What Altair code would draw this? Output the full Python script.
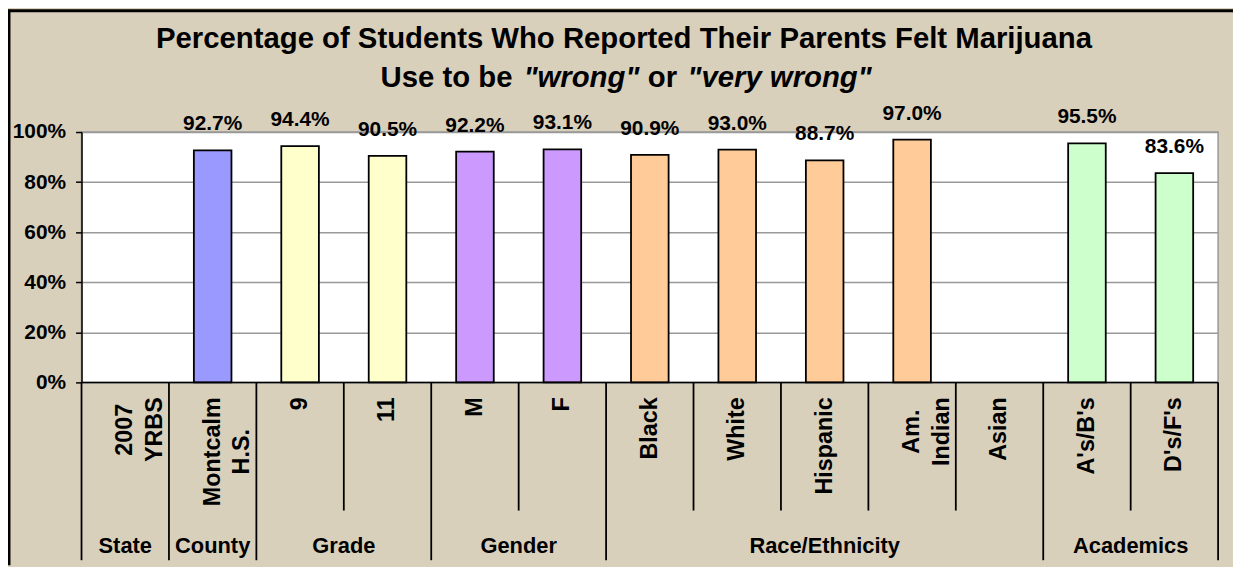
import altair as alt
import pandas as pd

# ---------------- data ----------------
cat_lines = [["2007", "YRBS"], ["Montcalm", "H.S."], ["9"], ["11"], ["M"], ["F"],
             ["Black"], ["White"], ["Hispanic"], ["Am.", "Indian"], ["Asian"],
             ["A's/B's"], ["D's/F's"]]
values = [None, 92.7, 94.4, 90.5, 92.2, 93.1, 90.9, 93.0, 88.7, 97.0, None, 95.5, 83.6]
groups = ["State", "County", "Grade", "Grade", "Gender", "Gender",
          "Race/Ethnicity", "Race/Ethnicity", "Race/Ethnicity", "Race/Ethnicity",
          "Race/Ethnicity", "Academics", "Academics"]
group_names = ["State", "County", "Grade", "Gender", "Race/Ethnicity", "Academics"]
group_colors = ["#FFFFFF", "#9999FF", "#FFFFCC", "#CC99FF", "#FFCC99", "#CCFFCC"]
y_ticks = [0, 0.2, 0.4, 0.6, 0.8, 1.0]

title_line1 = "Percentage of Students Who Reported Their Parents Felt Marijuana"
title_line2 = ["Use to be", '"wrong"', "or", '"very wrong"']
title_line2_styles = ["normal", "italic", "normal", "italic"]

# ---------------- layout ----------------
W, H = 1144, 252
FONT = "Liberation Sans"
BG = "#D9D0BC"
TXT = dict(font=FONT, fontWeight="bold", color="black")

# Arial-bold advance widths (per 1000 em) for layout estimates
AW = {' ': 278, '"': 474, "'": 238, '.': 278, '/': 278, '%': 889,
      '0': 556, '1': 556, '2': 556, '7': 556, '9': 556,
      'A': 722, 'B': 722, 'D': 722, 'F': 611, 'H': 722, 'I': 278, 'M': 833,
      'R': 722, 'S': 667, 'U': 722, 'Y': 667,
      'a': 556, 'b': 611, 'c': 556, 'd': 611, 'e': 556, 'g': 611, 'i': 278,
      'l': 278, 'm': 889, 'n': 611, 'o': 611, 'r': 389, 's': 556, 't': 333,
      'v': 556, 'w': 778, 'y': 556, 'h': 611, 'k': 556, 'p': 611, 'u': 611}


def text_w(s, size):
    return sum(AW.get(ch, 556) for ch in s) * size / 1000.0


categories = [" ".join(l) for l in cat_lines]
labels = ["\n".join(l) for l in cat_lines]

df = pd.DataFrame({"cat": categories, "lab": labels, "value": values, "group": groups})
df_bars = df.dropna(subset=["value"]).copy()
df_bars["frac"] = df_bars["value"] / 100.0
df_bars["label"] = df_bars["value"].map(lambda v: f"{v:.1f}%")

xscale = alt.Scale(domain=categories, paddingInner=0, paddingOuter=0)


def xenc(bp):
    return alt.X("cat:N", sort=categories, scale=xscale, axis=None, bandPosition=bp)


yscale = alt.Scale(domain=[0, 1], nice=False)

bars = alt.Chart(df_bars).mark_bar(
    width={"band": 0.43}, stroke="black", strokeWidth=1.8
).encode(
    x=alt.X("cat:N", sort=categories, scale=xscale, axis=None),
    y=alt.Y("frac:Q", scale=yscale,
            axis=alt.Axis(values=y_ticks, format=".0%", title=None,
                          labelFont=FONT, labelFontSize=21, labelFontWeight="bold",
                          labelColor="black", labelPadding=10,
                          tickColor="black", tickSize=6, tickWidth=1.5,
                          domainColor="black", domainWidth=1.5,
                          gridColor="#999999", gridWidth=1.5)),
    color=alt.Color("group:N", scale=alt.Scale(domain=group_names, range=group_colors),
                    legend=None),
)

value_labels = alt.Chart(df_bars).mark_text(
    dy=-20, baseline="alphabetic", fontSize=21, **TXT
).encode(x=xenc(0.5), y=alt.Y("frac:Q", scale=yscale), text="label:N")

# bottom axis line
base_line = alt.Chart(pd.DataFrame({"v": [0.0]})).mark_rule(
    color="black", strokeWidth=1.5
).encode(y=alt.Y("v:Q", scale=yscale), x=alt.value(0), x2=alt.value(W))

# separators
sep_kind = ["long" if i == 0 or groups[i] != groups[i - 1] else "short"
            for i in range(len(groups))]
df_sep = pd.DataFrame({"cat": categories, "kind": sep_kind})
sep_long = alt.Chart(df_sep).transform_filter(alt.datum.kind == "long").mark_rule(
    color="black", strokeWidth=1.8
).encode(x=xenc(0), y=alt.value(H), y2=alt.value(H + 179))
sep_short = alt.Chart(df_sep).transform_filter(alt.datum.kind == "short").mark_rule(
    color="black", strokeWidth=1.8
).encode(x=xenc(0), y=alt.value(H), y2=alt.value(H + 129))
sep_right = alt.Chart(pd.DataFrame({"cat": [categories[-1]]})).mark_rule(
    color="black", strokeWidth=1.8
).encode(x=xenc(1), y=alt.value(H), y2=alt.value(H + 179))

# category labels (rotated)
LAB_TOP = 267
CAT_FS = 23.5
single_cats = [c for c, l in zip(categories, cat_lines) if len(l) == 1]
multi = [(c, l) for c, l in zip(categories, cat_lines) if len(l) > 1]

cat_single = alt.Chart(df).transform_filter(
    alt.FieldOneOfPredicate(field="cat", oneOf=single_cats)
).mark_text(angle=270, align="right", baseline="middle", fontSize=CAT_FS, **TXT).encode(
    x=xenc(0.5), y=alt.value(LAB_TOP), text="lab:N")

cat_multi = []
for c, l in multi:
    maxw = max(text_w(s, CAT_FS) for s in l)
    cat_multi.append(
        alt.Chart(df).transform_filter(alt.datum.cat == c).mark_text(
            angle=270, align="center", baseline="middle", lineBreak="\n",
            lineHeight=30, fontSize=CAT_FS, **TXT
        ).encode(x=xenc(0.5), y=alt.value(LAB_TOP + maxw / 2), text="lab:N")
    )

# group labels
g_center, g_edge = [], []
for g in group_names:
    members = [c for c, gg in zip(categories, groups) if gg == g]
    n = len(members)
    if n % 2 == 1:
        g_center.append((g, members[n // 2]))
    else:
        g_edge.append((g, members[n // 2]))
df_gc = pd.DataFrame({"glab": [a for a, _ in g_center], "cat": [b for _, b in g_center]})
df_ge = pd.DataFrame({"glab": [a for a, _ in g_edge], "cat": [b for _, b in g_edge]})
grp_c = alt.Chart(df_gc).mark_text(baseline="middle", align="center", fontSize=22, **TXT).encode(
    x=xenc(0.5), y=alt.value(H + 165), text="glab:N")
grp_e = alt.Chart(df_ge).mark_text(baseline="middle", align="center", fontSize=22, **TXT).encode(
    x=xenc(0), y=alt.value(H + 165), text="glab:N")

# title
TITLE_FS = 29.5
TITLE_CX = 546
t1 = alt.Chart(pd.DataFrame({"t": [title_line1]})).mark_text(
    align="center", baseline="middle", fontSize=TITLE_FS, **TXT
).encode(x=alt.value(TITLE_CX), y=alt.value(-94), text="t:N")

# second title line: pieces placed left to right with word gaps
t2_starts = [301, 445, 570, 610]
t2_layers = []
for s, style, xs in zip(title_line2, title_line2_styles, t2_starts):
    t2_layers.append(
        alt.Chart(pd.DataFrame({"t": [s]})).mark_text(
            align="left", baseline="middle", fontSize=TITLE_FS, fontStyle=style, **TXT
        ).encode(x=alt.value(xs), y=alt.value(-54), text="t:N")
    )

# outer border (left & top)
border_l = alt.Chart(pd.DataFrame({"a": [0]})).mark_rule(color="black", strokeWidth=3).encode(
    x=alt.value(-73), y=alt.value(-123), y2=alt.value(H + 184))
border_t = alt.Chart(pd.DataFrame({"a": [0]})).mark_rule(color="black", strokeWidth=3).encode(
    y=alt.value(-122), x=alt.value(-74), x2=alt.value(W + 15))

chart = alt.layer(
    bars, value_labels, base_line, sep_long, sep_short, sep_right,
    cat_single, *cat_multi, grp_c, grp_e, t1, *t2_layers, border_l, border_t
).properties(
    width=W, height=H,
    autosize=alt.AutoSizeParams(type="none"),
    padding={"left": 74, "top": 123, "right": 15, "bottom": 184},
    background=BG,
).configure_view(fill="white", stroke="#999999", strokeWidth=1.5)

chart.save("out.html", embed_options={"renderer": "svg", "actions": False})
